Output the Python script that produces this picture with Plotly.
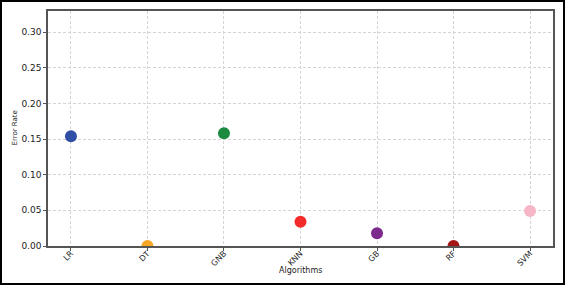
import plotly.graph_objects as go

algorithms = ["LR", "DT", "GNB", "KNN", "GB", "RF", "SVM"]
error_rate = [0.154, 0.0, 0.158, 0.034, 0.018, 0.0, 0.049]
colors = ["#2f4ea6", "#f5a623", "#1b8a3e", "#f52a2a", "#7c2a8c", "#a51717", "#f6b6c8"]
y_ticks = [0.0, 0.05, 0.10, 0.15, 0.20, 0.25, 0.30]
y_tick_text = ["0.00", "0.05", "0.10", "0.15", "0.20", "0.25", "0.30"]

fig = go.Figure()
fig.add_trace(go.Scatter(
    x=list(range(len(algorithms))), y=error_rate, mode="markers",
    marker=dict(color=colors, size=12, line=dict(width=0)),
    cliponaxis=True, showlegend=False,
))

W, H = 566, 285
L, R, T, B = 48, 13, 11, 39
pw, ph = W - L - R, H - T - B

fig.update_layout(
    width=W, height=H,
    margin=dict(l=L, r=R, t=T, b=B, pad=0, autoexpand=False),
    paper_bgcolor="white", plot_bgcolor="white",
    font=dict(family="DejaVu Sans", color="#222", size=9),
    xaxis=dict(
        range=[-0.3, 6.3], tickmode="array", tickvals=list(range(len(algorithms))),
        ticktext=algorithms, tickangle=-45, tickfont=dict(size=8),
        ticklabelstandoff=-5,
        showgrid=True, gridcolor="#d4d4d4", griddash="3px,2px", gridwidth=1,
        showline=True, linecolor="#555", linewidth=1.5, mirror=True,
        ticks="outside", ticklen=3, tickcolor="#555", zeroline=False,
        automargin=False,
    ),
    yaxis=dict(
        range=[0, 0.3295], tickmode="array", tickvals=y_ticks, ticktext=y_tick_text,
        tickfont=dict(size=9),
        showgrid=True, gridcolor="#d4d4d4", griddash="3px,2px", gridwidth=1,
        showline=True, linecolor="#555", linewidth=1.5, mirror=True,
        ticks="outside", ticklen=3, tickcolor="#555", zeroline=False,
        automargin=False,
    ),
    annotations=[
        dict(text="Algorithms", xref="paper", yref="paper", x=0.5, y=(246 - 270) / ph,
             showarrow=False, font=dict(size=8), xanchor="center", yanchor="middle"),
        dict(text="Error Rate", xref="paper", yref="paper", x=(14 - L) / pw, y=0.5,
             showarrow=False, font=dict(size=7), textangle=-90,
             xanchor="center", yanchor="middle"),
    ],
)

fig.add_shape(
    type="rect", xref="paper", yref="paper",
    x0=(1 - L) / pw, x1=(W - 2 - L) / pw,
    y0=(T + ph - (H - 1)) / ph,
    y1=(T + ph - 1) / ph,
    line=dict(color="black", width=2), fillcolor="rgba(0,0,0,0)", layer="above",
)

fig.write_html("out.html")
